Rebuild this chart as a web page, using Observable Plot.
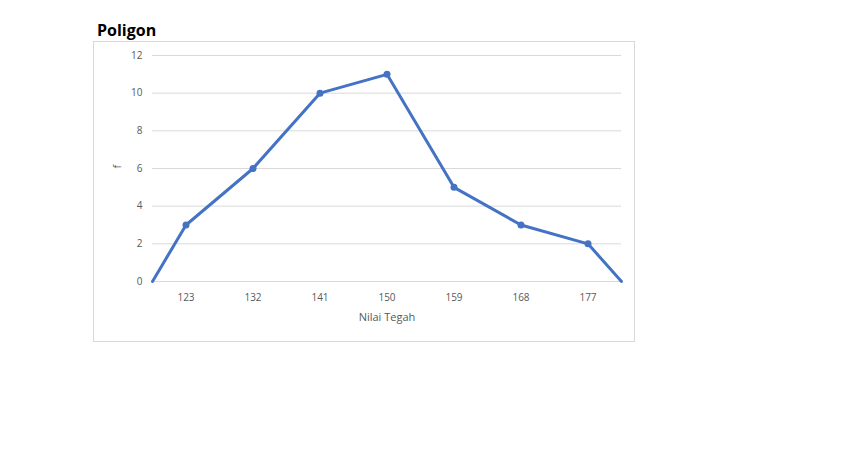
<!DOCTYPE html>
<html>
<head>
<meta charset="utf-8">
<script src="https://cdn.jsdelivr.net/npm/d3@7"></script>
<script src="https://cdn.jsdelivr.net/npm/@observablehq/plot@0.6"></script>
<style>
  html, body { margin: 0; padding: 0; background: #fff; }
  #wrap { position: relative; width: 853px; height: 467px; }
  #box { position: absolute; left: 93px; top: 41px; width: 540px; height: 299px; border: 1px solid #d9d9d9; box-sizing: content-box; }
  #title { position: absolute; left: 97px; top: 19px; font-family: "Open Sans", "Noto Sans", sans-serif; font-weight: bold; font-size: 16px; color: #000; line-height: 22px; }
  #chart { position: absolute; left: 0; top: 0; }
</style>
</head>
<body>
<div id="wrap">
  <div id="box"></div>
  <div id="title">Poligon</div>
  <div id="chart"></div>
</div>
<script>
// Nilai Tegah (class midpoints) with the closing points of the polygon at both ends
const nilaiTegah = [118.5, 123, 132, 141, 150, 159, 168, 177, 181.5];
const frekuensi  = [0, 3, 6, 10, 11, 5, 3, 2, 0];
const xTicks = [123, 132, 141, 150, 159, 168, 177];
const yTicks = [0, 2, 4, 6, 8, 10, 12];

const data = nilaiTegah.map((x, i) => ({x, f: frekuensi[i]}));
const markers = data.filter(d => xTicks.includes(d.x));

const chart = Plot.plot({
  width: 853,
  height: 467,
  marginLeft: 152,
  marginRight: 232,
  marginTop: 55,
  marginBottom: 186,
  style: { fontFamily: "'Open Sans', 'Noto Sans', sans-serif", fontSize: "10px", color: "#595959", background: "transparent" },
  x: { domain: [118.5, 181.5], ticks: xTicks, tickFormat: d => String(d), tickSize: 0, tickPadding: 12, label: null },
  y: { domain: [0, 12], ticks: yTicks, tickSize: 0, tickPadding: 10, label: null },
  marks: [
    Plot.ruleY(yTicks, { stroke: "#d9d9d9", strokeWidth: 1 }),
    Plot.axisX({ ticks: xTicks, tickSize: 0, tickPadding: 12, tickFormat: d => String(d), label: null, fill: "#595959" }),
    Plot.axisY({ ticks: yTicks, tickSize: 0, tickPadding: 10, label: null, fill: "#595959" }),
    Plot.line(data, { x: "x", y: "f", stroke: "#4472C4", strokeWidth: 3, strokeLinejoin: "round" }),
    Plot.dot(markers, { x: "x", y: "f", fill: "#4472C4", r: 3.5 }),
    Plot.text(["Nilai Tegah"], { frameAnchor: "bottom", dy: 39, fill: "#595959", fontSize: 11 }),
    Plot.text(["f"], { frameAnchor: "left", dx: -35, rotate: -90, fill: "#595959", fontSize: 11 })
  ]
});
document.getElementById("chart").appendChild(chart);
</script>
</body>
</html>
